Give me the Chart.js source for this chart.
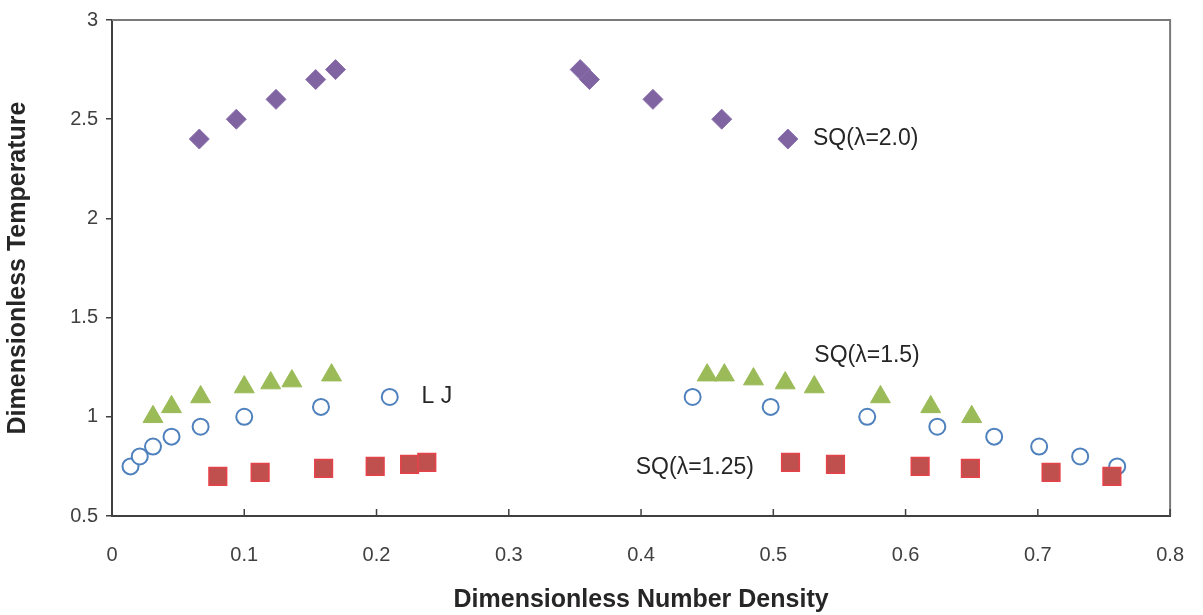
<!DOCTYPE html>
<html>
<head>
<meta charset="utf-8">
<script src="https://cdn.jsdelivr.net/npm/chart.js@4/dist/chart.umd.min.js"></script>
<style>
  html, body { margin: 0; padding: 0; background: #fff; }
  #wrap { width: 1203px; height: 615px; }
</style>
</head>
<body>
<div id="wrap"><canvas id="phase"></canvas></div>
<script>
// LJ (open circles)
const lj_x = [0.014, 0.021, 0.031, 0.045, 0.067, 0.100, 0.158, 0.210, 0.439, 0.498, 0.571, 0.624, 0.667, 0.701, 0.732, 0.760];
const lj_y = [0.75, 0.80, 0.85, 0.90, 0.95, 1.00, 1.05, 1.10, 1.10, 1.05, 1.00, 0.95, 0.90, 0.85, 0.80, 0.75];
// SQ lambda=1.25 (squares)
const sq125_x = [0.080, 0.112, 0.160, 0.199, 0.225, 0.238, 0.513, 0.547, 0.611, 0.649, 0.710, 0.756];
const sq125_y = [0.70, 0.72, 0.74, 0.75, 0.76, 0.77, 0.77, 0.76, 0.75, 0.74, 0.72, 0.70];
// SQ lambda=1.5 (triangles)
const sq15_x = [0.031, 0.045, 0.067, 0.100, 0.120, 0.136, 0.166, 0.450, 0.463, 0.485, 0.509, 0.531, 0.581, 0.619, 0.650];
const sq15_y = [1.00, 1.05, 1.10, 1.15, 1.17, 1.18, 1.21, 1.21, 1.21, 1.19, 1.17, 1.15, 1.10, 1.05, 1.00];
// SQ lambda=2.0 (diamonds)
const sq20_x = [0.066, 0.094, 0.124, 0.154, 0.169, 0.354, 0.361, 0.409, 0.461, 0.511];
const sq20_y = [2.40, 2.50, 2.60, 2.70, 2.75, 2.75, 2.70, 2.60, 2.50, 2.40];

const x_ticks = [0, 0.1, 0.2, 0.3, 0.4, 0.5, 0.6, 0.7, 0.8];
const y_ticks = [0.5, 1, 1.5, 2, 2.5, 3];

// text labels placed in data units
const label_text = ["SQ(\u03bb=2.0)", "SQ(\u03bb=1.5)", "L J", "SQ(\u03bb=1.25)"];
const label_x = [0.530, 0.531, 0.234, 0.396];
const label_y = [2.40, 1.31, 1.10, 0.745];

const FONT = "'Liberation Sans', Arial, sans-serif";

function pts(xs, ys) {
  return xs.map((x, i) => ({ x: x, y: ys[i] }));
}

const frame = {
  id: "frame",
  afterDraw(chart) {
    const c = chart.ctx;
    const a = chart.chartArea;
    const xs = chart.scales.x;
    c.save();
    // top + right box lines
    c.strokeStyle = "#7a7a7a";
    c.lineWidth = 2;
    c.beginPath();
    c.moveTo(a.left, a.top);
    c.lineTo(a.right, a.top);
    c.lineTo(a.right, a.bottom);
    c.stroke();
    // inward x ticks
    c.strokeStyle = "#404040";
    c.lineWidth = 1.5;
    x_ticks.forEach((v) => {
      const px = xs.getPixelForValue(v);
      c.beginPath();
      c.moveTo(px, a.bottom);
      c.lineTo(px, a.bottom - 7);
      c.stroke();
    });
    // text labels
    c.fillStyle = "#262626";
    c.font = "23px " + FONT;
    c.textBaseline = "middle";
    c.textAlign = "left";
    label_text.forEach((t, i) => {
      c.fillText(t, xs.getPixelForValue(label_x[i]), chart.scales.y.getPixelForValue(label_y[i]));
    });
    c.restore();
  }
};

new Chart(document.getElementById("phase"), {
  type: "scatter",
  data: {
    datasets: [
      {
        label: "SQ(\u03bb=1.25)",
        data: pts(sq125_x, sq125_y),
        pointStyle: "rect",
        pointRadius: 12.5,
        backgroundColor: "#c0504d",
        borderColor: "#e5434a",
        borderWidth: 1.5,
      },
      {
        label: "L J",
        data: pts(lj_x, lj_y),
        pointStyle: "circle",
        pointRadius: 8,
        backgroundColor: "#ffffff",
        borderColor: "#4f81bd",
        borderWidth: 2,
      },
      {
        label: "SQ(\u03bb=1.5)",
        data: pts(sq15_x, sq15_y),
        pointStyle: "triangle",
        pointRadius: 11.5,
        backgroundColor: "#9bbb59",
        borderColor: "#9bbb59",
        borderWidth: 1,
      },
      {
        label: "SQ(\u03bb=2.0)",
        data: pts(sq20_x, sq20_y),
        pointStyle: "rectRot",
        pointRadius: 10,
        backgroundColor: "#8064a2",
        borderColor: "#8a70ad",
        borderWidth: 1,
      },
    ],
  },
  options: {
    responsive: true,
    maintainAspectRatio: false,
    animation: false,
    layout: { padding: { left: 0, right: 30, top: 17, bottom: 0 } },
    plugins: {
      legend: { display: false },
      tooltip: { enabled: false },
    },
    scales: {
      x: {
        type: "linear",
        min: 0,
        max: 0.8,
        afterBuildTicks: (s) => { s.ticks = x_ticks.map((v) => ({ value: v })); },
        afterFit: (s) => { s.height = 99; },
        grid: { display: false },
        border: { display: true, color: "#404040", width: 2 },
        ticks: {
          color: "#404040",
          padding: 19,
          font: { family: FONT, size: 20 },
          callback: (v) => String(v),
        },
        title: {
          display: true,
          text: "Dimensionless Number Density",
          color: "#262626",
          padding: { top: 0, bottom: 0 },
          font: { family: FONT, size: 25, weight: "bold" },
        },
      },
      y: {
        type: "linear",
        min: 0.5,
        max: 3,
        afterBuildTicks: (s) => { s.ticks = y_ticks.map((v) => ({ value: v })); },
        afterFit: (s) => { s.width = 112; },
        grid: { drawOnChartArea: false, tickLength: 6, color: "#404040", lineWidth: 1.5 },
        border: { display: true, color: "#404040", width: 2 },
        ticks: {
          color: "#404040",
          padding: 8,
          font: { family: FONT, size: 20 },
          callback: (v) => String(v),
        },
        title: {
          display: true,
          text: "Dimensionless Temperature",
          color: "#262626",
          padding: { top: 3, bottom: 0 },
          font: { family: FONT, size: 25, weight: "bold" },
        },
      },
    },
  },
  plugins: [frame],
});
</script>
</body>
</html>
